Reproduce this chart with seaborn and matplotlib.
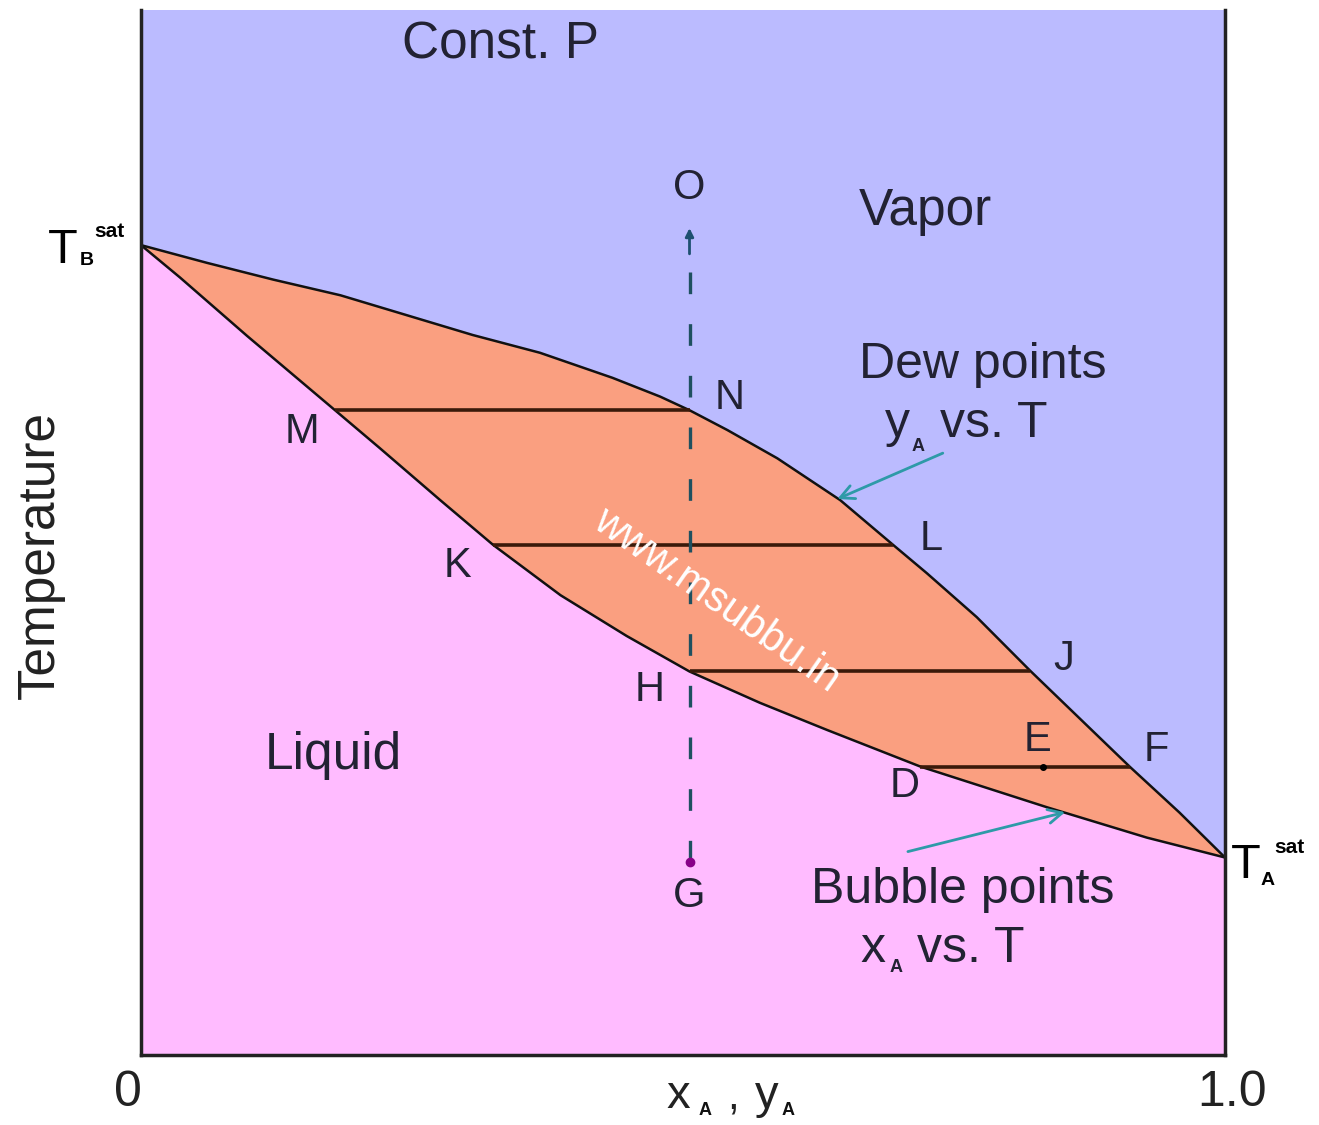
import numpy as np
import pandas as pd
import matplotlib.pyplot as plt
import seaborn as sns

# Dew-point curve (y_A vs T)
dew_x = [0.0, 0.061, 0.122, 0.184, 0.245, 0.306, 0.368, 0.435, 0.479, 0.506, 0.541,
         0.587, 0.645, 0.694, 0.725, 0.771, 0.820, 0.866, 0.912, 0.958, 1.0]
dew_t = [0.775, 0.758, 0.742, 0.727, 0.708, 0.689, 0.672, 0.648, 0.630, 0.617, 0.598,
         0.571, 0.531, 0.488, 0.461, 0.419, 0.368, 0.322, 0.276, 0.232, 0.189]

# Bubble-point curve (x_A vs T)
bub_x = [0.0, 0.036, 0.098, 0.179, 0.220, 0.276, 0.325, 0.387, 0.448, 0.506, 0.571,
         0.633, 0.719, 0.836, 0.928, 1.0]
bub_t = [0.775, 0.744, 0.688, 0.617, 0.581, 0.531, 0.488, 0.440, 0.401, 0.367, 0.337,
         0.311, 0.276, 0.237, 0.208, 0.189]

# Tie lines: temperature, liquid end, vapour end, labels
tie_t = [0.617, 0.488, 0.367, 0.276]
tie_liq = [0.179, 0.325, 0.506, 0.719]
tie_vap = [0.506, 0.694, 0.820, 0.912]
tie_liq_lab = ['M', 'K', 'H', 'D']
tie_vap_lab = ['N', 'L', 'J', 'F']

# Vertical path G -> O at overall composition
z_a = 0.506
t_g = 0.185
t_o = 0.794
e_x, e_t = 0.832, 0.276

VAPOR = '#BBBBFF'
LIQUID = '#FFBBFF'
TWO_PHASE = '#FA9F80'
TEAL = '#2E9AA8'

sns.set_style('white')
plt.rcParams['font.family'] = ['Liberation Sans', 'DejaVu Sans']

W, H = 1319, 1125
fig = plt.figure(figsize=(W / 100, H / 100), dpi=100)
ax = fig.add_axes([141 / W, 1 - 1055 / H, (1225 - 141) / W, (1055 - 10) / H])
ax.set_xlim(0, 1)
ax.set_ylim(0, 1)
ax.set_facecolor(VAPOR)

# regions
ax.fill(list(bub_x) + [1.0, 0.0], list(bub_t) + [0.0, 0.0], color=LIQUID, lw=0)
ax.fill(list(dew_x) + list(bub_x[::-1]), list(dew_t) + list(bub_t[::-1]),
        color=TWO_PHASE, lw=0)

curves = pd.concat([
    pd.DataFrame({'x': dew_x, 'T': dew_t, 'curve': 'dew'}),
    pd.DataFrame({'x': bub_x, 'T': bub_t, 'curve': 'bubble'}),
])
sns.lineplot(data=curves, x='x', y='T', units='curve', estimator=None, sort=False,
             color='#111111', lw=1.8, ax=ax, legend=False)
ax.set_xlabel('')
ax.set_ylabel('')

ax.hlines(tie_t, tie_liq, tie_vap, color='#3A1A0A', lw=2.6)

# dashed path and end points
ax.plot([z_a, z_a], [t_g, t_o - 0.02], ls=(0, (6.5, 9)), color='#1E5060', lw=2.4)
ax.annotate('', xy=(z_a, t_o), xytext=(z_a, t_o - 0.03),
            arrowprops=dict(arrowstyle='-|>', color='#1E5070', lw=2, mutation_scale=12))
ax.plot([z_a], [t_g], 'o', color='#880088', ms=6)
ax.plot([e_x], [e_t], 'o', color='black', ms=4)

lab_kw = dict(textcoords='offset points', ha='center', va='center',
              fontsize=30, color='#222233')
liq_off = [(-24, -16), (-26, -15), (-29, -13), (-11, -14)]
vap_off = [(29, 9), (27, 4), (24, 9), (19, 12)]
for t, xl, xv, ll, lv, ol, ov in zip(tie_t, tie_liq, tie_vap, tie_liq_lab,
                                       tie_vap_lab, liq_off, vap_off):
    ax.annotate(ll, (xl, t), xytext=ol, **lab_kw)
    ax.annotate(lv, (xv, t), xytext=ov, **lab_kw)
ax.annotate('E', (e_x, e_t), xytext=(-4, 19), **lab_kw)
ax.annotate('O', (z_a, t_o), xytext=(0, 27), **lab_kw)
ax.annotate('G', (z_a, t_g), xytext=(0, -25), **lab_kw)

# curve arrows
ax.annotate('', xy=(0.640, 0.531), xytext=(0.742, 0.577),
            arrowprops=dict(arrowstyle='->', color=TEAL, lw=2, mutation_scale=25))
ax.annotate('', xy=(0.855, 0.233), xytext=(0.705, 0.194),
            arrowprops=dict(arrowstyle='->', color=TEAL, lw=2, mutation_scale=25))

ax.spines['top'].set_visible(False)
for s in ['left', 'bottom', 'right']:
    ax.spines[s].set_color('#222222')
    ax.spines[s].set_linewidth(2.5)
ax.set_xticks([])
ax.set_yticks([])


def ptext(x, y, s, size, **kw):
    kw.setdefault('ha', 'center')
    kw.setdefault('va', 'center')
    kw.setdefault('color', '#222233')
    fig.text(x / W, 1 - y / H, s, fontsize=size, **kw)


ptext(500, 45, 'Const. P', 37)
ptext(925, 212, 'Vapor', 37)
ptext(333, 755, 'Liquid', 37)
ptext(983, 365, 'Dew points', 36)
ptext(897, 437, 'y', 36, va='baseline')
ptext(918, 451, 'A', 13, va='baseline', weight='bold')
ptext(940, 437, 'vs. T', 36, ha='left', va='baseline')
ptext(963, 890, 'Bubble points', 36)
ptext(873, 962, 'x', 36, va='baseline')
ptext(896, 972, 'A', 13, va='baseline', weight='bold')
ptext(917, 962, 'vs. T', 36, ha='left', va='baseline')

ptext(717, 600, 'www.msubbu.in', 30, color='white', rotation=-35)

ptext(40, 555, 'Temperature', 37, rotation=90, color='#222222')
ptext(128, 1093, '0', 36, color='#222222')
ptext(1232, 1093, '1.0', 36, color='#222222')
ptext(678, 1108, 'x', 34, va='baseline', color='#222222')
ptext(705, 1115, 'A', 13, va='baseline', weight='bold', color='#111111')
ptext(733, 1108, ',', 30, va='baseline', color='#222222')
ptext(767, 1108, 'y', 34, va='baseline', color='#222222')
ptext(788, 1115, 'A', 13, va='baseline', weight='bold', color='#111111')

# saturation temperatures
ptext(63, 263, 'T', 35, va='baseline', color='black')
ptext(87, 265, 'B', 14, va='baseline', weight='bold', color='black')
ptext(109, 237, 'sat', 15, va='baseline', weight='bold', color='black')
ptext(1246, 878, 'T', 35, va='baseline', color='black')
ptext(1268, 885, 'A', 14, va='baseline', weight='bold', color='black')
ptext(1289, 853, 'sat', 15, va='baseline', weight='bold', color='black')

fig.savefig('out.png', dpi=100, facecolor='white')
